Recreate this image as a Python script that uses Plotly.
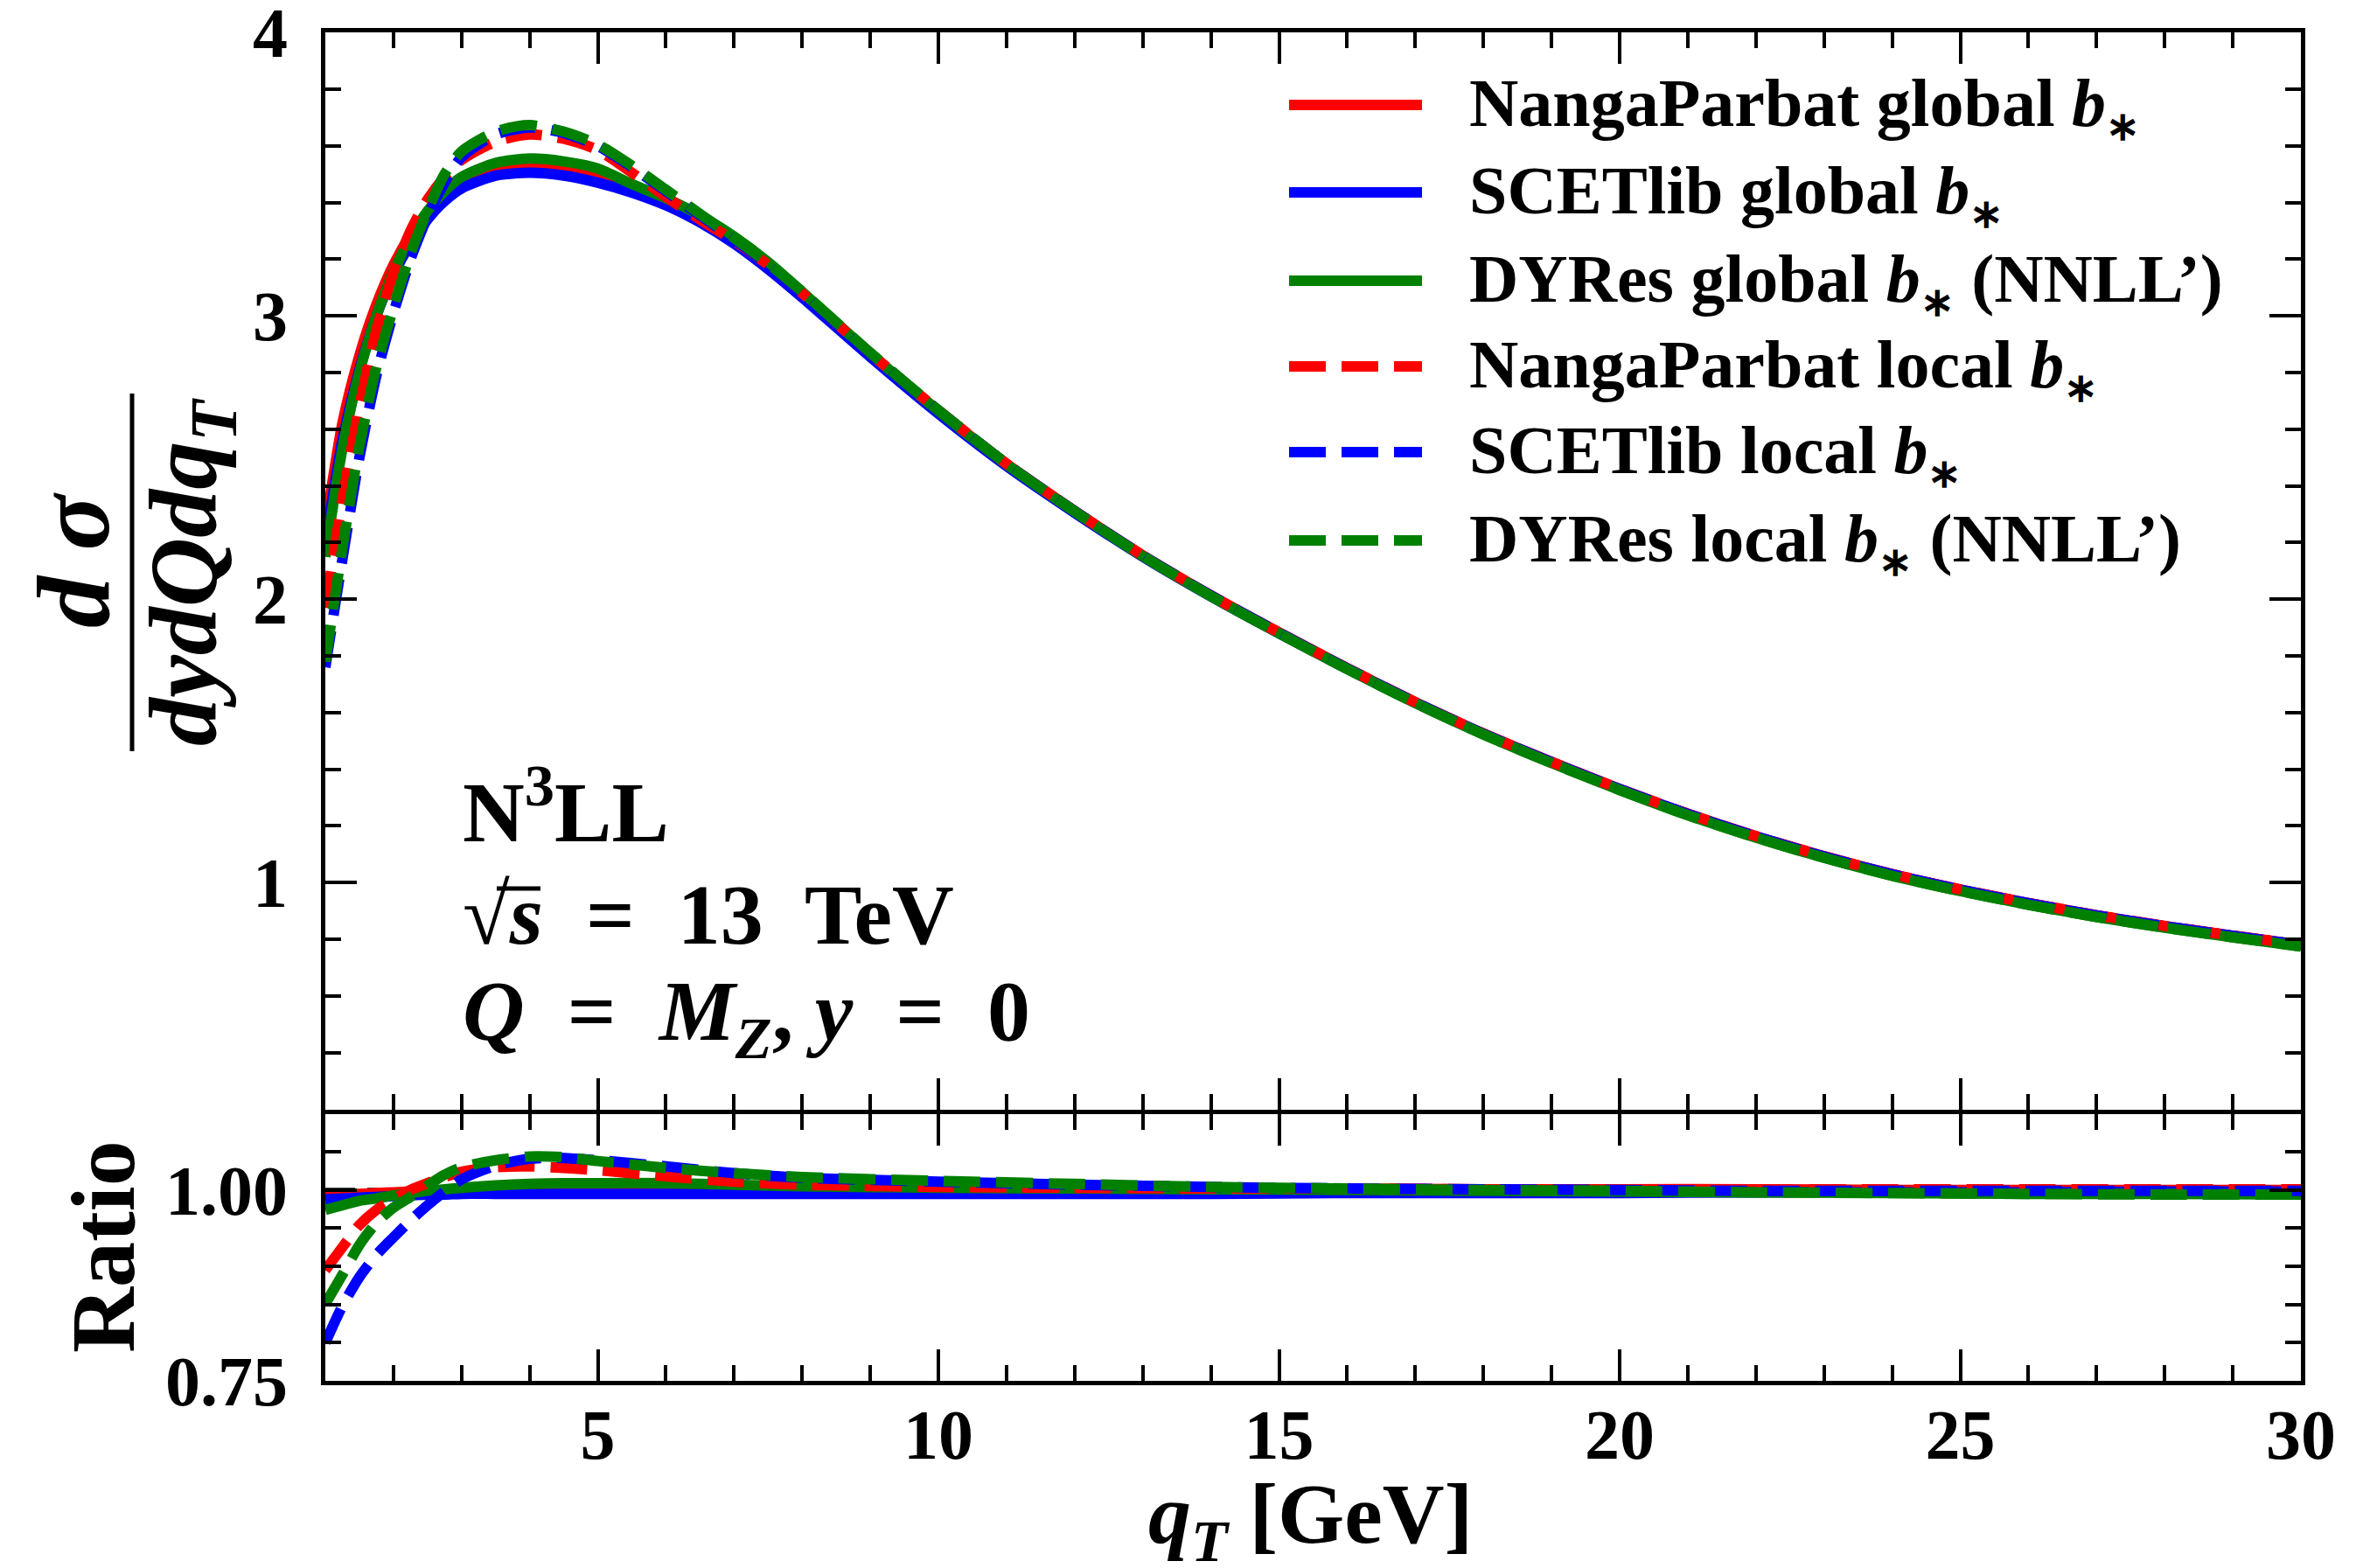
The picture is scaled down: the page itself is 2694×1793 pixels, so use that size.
import plotly.graph_objects as go

# ---------------- data ----------------
q_main = [1.0, 1.25, 1.5, 1.75, 2.0, 2.25, 2.5, 2.75, 3.0, 3.5, 4.0, 4.5, 5.0, 5.5,
          6.0, 6.5, 7.0, 7.5, 8.0, 9.0, 10.0, 11.0, 12.0, 13.0, 14.0, 15.0, 16.0,
          17.0, 18.0, 19.0, 20.0, 21.0, 22.0, 23.0, 24.0, 25.0, 26.0, 27.0, 28.0,
          29.0, 30.0]

np_global = [2.25, 2.62, 2.86, 3.04, 3.18, 3.285, 3.365, 3.43, 3.475, 3.515, 3.525, 3.515,
             3.49, 3.45, 3.40, 3.34, 3.27, 3.18, 3.078, 2.865, 2.665, 2.478, 2.312, 2.155,
             2.014, 1.883, 1.757, 1.637, 1.526, 1.426, 1.331, 1.243, 1.164, 1.093, 1.030,
             0.976, 0.928, 0.885, 0.847, 0.813, 0.781]
scet_global = [2.20, 2.56, 2.81, 3.00, 3.145, 3.255, 3.34, 3.405, 3.45, 3.495, 3.505, 3.495,
               3.47, 3.435, 3.39, 3.33, 3.255, 3.165, 3.065, 2.855, 2.655, 2.47, 2.305,
               2.15, 2.01, 1.88, 1.755, 1.635, 1.525, 1.425, 1.33, 1.242, 1.163, 1.092,
               1.029, 0.975, 0.927, 0.884, 0.846, 0.812, 0.780]
dyres_global = [2.15, 2.53, 2.80, 3.00, 3.155, 3.275, 3.37, 3.44, 3.49, 3.54, 3.555, 3.545,
                3.52, 3.465, 3.415, 3.355, 3.28, 3.19, 3.085, 2.868, 2.664, 2.476, 2.309,
                2.152, 2.011, 1.880, 1.754, 1.634, 1.523, 1.422, 1.327, 1.238, 1.159,
                1.088, 1.024, 0.970, 0.922, 0.879, 0.841, 0.807, 0.775]
np_local = [1.97, 2.35, 2.68, 2.95, 3.15, 3.30, 3.41, 3.49, 3.55, 3.615, 3.64, 3.625,
            3.585, 3.505, 3.42, 3.34, 3.265, 3.18, 3.08, 2.868, 2.667, 2.478, 2.311,
            2.154, 2.013, 1.882, 1.757, 1.637, 1.526, 1.426, 1.331, 1.243, 1.164, 1.093,
            1.030, 0.976, 0.928, 0.885, 0.847, 0.813, 0.781]
scet_local = [1.76, 2.14, 2.50, 2.79, 3.01, 3.20, 3.35, 3.47, 3.56, 3.64, 3.665, 3.645,
              3.60, 3.525, 3.44, 3.355, 3.27, 3.18, 3.08, 2.868, 2.666, 2.478, 2.311,
              2.154, 2.013, 1.882, 1.756, 1.636, 1.525, 1.425, 1.330, 1.242, 1.163,
              1.092, 1.029, 0.975, 0.927, 0.884, 0.846, 0.812, 0.780]
dyres_local = [1.78, 2.18, 2.54, 2.82, 3.03, 3.22, 3.37, 3.50, 3.58, 3.65, 3.673, 3.65,
               3.605, 3.53, 3.445, 3.36, 3.275, 3.185, 3.085, 2.870, 2.667, 2.478, 2.310,
               2.153, 2.011, 1.880, 1.754, 1.634, 1.523, 1.422, 1.327, 1.238, 1.159,
               1.088, 1.024, 0.970, 0.922, 0.879, 0.841, 0.807, 0.775]

q_ratio = [1.0, 1.25, 1.5, 1.75, 2.0, 2.25, 2.5, 2.75, 3.0, 3.5, 4.0, 4.5, 5.0, 6.0,
           7.0, 8.0, 10.0, 12.0, 14.0, 16.0, 18.0, 20.0, 22.0, 24.0, 26.0, 28.0, 30.0]

np_global_ratio = [0.993, 0.994, 0.995, 0.996, 0.997, 0.998, 0.999, 1.000, 1.001, 1.002,
                   1.003, 1.004, 1.004, 1.004, 1.004, 1.004, 1.003, 1.003, 1.002, 1.002,
                   1.001, 1.001, 1.001, 1.000, 1.000, 1.000, 1.000]
scet_global_ratio = [0.988, 0.989, 0.990, 0.991, 0.992, 0.993, 0.994, 0.994, 0.995, 0.995,
                     0.995, 0.995, 0.995, 0.995, 0.995, 0.995, 0.995, 0.995, 0.995, 0.996,
                     0.996, 0.996, 0.997, 0.997, 0.997, 0.998, 0.998]
dyres_global_ratio = [0.974, 0.980, 0.986, 0.989, 0.993, 0.996, 0.999, 1.001, 1.003, 1.006,
                      1.008, 1.009, 1.009, 1.009, 1.007, 1.005, 1.003, 1.002, 1.001, 1.000,
                      0.999, 0.998, 0.997, 0.996, 0.995, 0.995, 0.994]
np_local_ratio = [0.895, 0.925, 0.954, 0.974, 0.988, 1.000, 1.009, 1.017, 1.024, 1.030,
                  1.031, 1.029, 1.026, 1.018, 1.011, 1.007, 1.004, 1.003, 1.002, 1.002,
                  1.001, 1.001, 1.001, 1.001, 1.001, 1.001, 1.001]
scet_local_ratio = [0.800, 0.848, 0.886, 0.915, 0.938, 0.960, 0.980, 0.998, 1.014, 1.032,
                    1.041, 1.042, 1.039, 1.031, 1.022, 1.016, 1.011, 1.007, 1.004, 1.002,
                    1.001, 1.000, 0.999, 0.999, 0.999, 0.999, 0.999]
dyres_local_ratio = [0.851, 0.889, 0.928, 0.957, 0.977, 0.991, 1.006, 1.020, 1.030, 1.039,
                     1.044, 1.043, 1.038, 1.029, 1.022, 1.017, 1.012, 1.008, 1.004, 1.002,
                     1.000, 0.999, 0.997, 0.996, 0.995, 0.994, 0.994]

ratio_unity = [1.0, 1.0]
q_limits = [1.0, 30.0]

labels = ["NangaParbat global", "SCETlib global", "DYRes global",
          "NangaParbat local", "SCETlib local", "DYRes local"]
suffix = ["", "", " (NNLL’)", "", "", " (NNLL’)"]

# ---------------- styling ----------------
FONT = "Liberation Serif"
W, H = 2694, 1793
L, R, T, B = 372, 63, 37, 214
PW, PH = W - L - R, H - T - B
# panel split: the shared border is drawn once, centred on y = 1271 px
MAIN_BOTTOM = (H - B - 1268.5) / PH
RATIO_TOP = (H - B - 1273.5) / PH

colors = ["#ff0000", "#0000ff", "#008000", "#ff0000", "#0000ff", "#008000"]
DASH = "42px,18px"
LW = 12
dashes = ["solid", "solid", "solid", DASH, DASH, DASH]

main_series = [np_global, scet_global, dyres_global, np_local, scet_local, dyres_local]
ratio_series = [np_global_ratio, scet_global_ratio, dyres_global_ratio,
                np_local_ratio, scet_local_ratio, dyres_local_ratio]

fig = go.Figure()

# reference line at ratio = 1
fig.add_trace(go.Scatter(x=q_limits, y=ratio_unity, xaxis="x2", yaxis="y2", mode="lines",
                         line=dict(color="black", width=5, dash="34px,14px"),
                         showlegend=False, hoverinfo="skip"))

for i in range(6):
    fig.add_trace(go.Scatter(x=q_main, y=main_series[i], xaxis="x", yaxis="y", mode="lines",
                             line=dict(color=colors[i], width=LW, dash=dashes[i],
                                       shape="spline", smoothing=0.7),
                             showlegend=False, name=labels[i] + suffix[i]))
for i in range(6):
    fig.add_trace(go.Scatter(x=q_ratio, y=ratio_series[i], xaxis="x2", yaxis="y2", mode="lines",
                             line=dict(color=colors[i], width=LW, dash=dashes[i],
                                       shape="spline", smoothing=0.7),
                             showlegend=False, name=labels[i] + suffix[i]))

tickfont = dict(family=FONT, size=80, color="black", weight="bold")
common_x = dict(range=[1, 30], ticks="inside", ticklen=36, tickwidth=4, tickcolor="black",
                showline=True, linewidth=5, linecolor="black", mirror="ticks",
                tick0=0, dtick=5, showgrid=False, zeroline=False, automargin=False,
                minor=dict(ticks="inside", ticklen=18, tickwidth=4, tickcolor="black",
                           tick0=0, dtick=1, showgrid=False))
common_y = dict(ticks="inside", ticklen=36, tickwidth=4, tickcolor="black",
                showline=True, linewidth=5, linecolor="black", mirror="ticks",
                tickfont=tickfont, ticklabelstandoff=22, ticklabeloverflow="allow",
                showgrid=False, zeroline=False, automargin=False)

fig.update_layout(
    width=W, height=H,
    margin=dict(l=L, r=R, t=T, b=B, autoexpand=False),
    paper_bgcolor="white", plot_bgcolor="white",
    xaxis=dict(**common_x, anchor="y", domain=[0, 1], showticklabels=False, matches="x2"),
    xaxis2=dict(**common_x, anchor="y2", domain=[0, 1], showticklabels=True,
                tickfont=tickfont, ticklabelstandoff=-12, ticklabeloverflow="allow"),
    yaxis=dict(**common_y, domain=[MAIN_BOTTOM, 1], range=[0.2, 4.0005], anchor="x",
               tickvals=[1, 2, 3, 4], ticktext=["1", "2", "3", "4"],
               minor=dict(ticks="inside", ticklen=18, tickwidth=4, tickcolor="black",
                          tick0=0, dtick=0.2, showgrid=False)),
    yaxis2=dict(**common_y, domain=[0, RATIO_TOP], range=[0.75, 1.10], anchor="x2",
                tickvals=[0.75, 1.0], ticktext=["0.75", "1.00"],
                minor=dict(ticks="inside", ticklen=18, tickwidth=4, tickcolor="black",
                           tick0=0.75, dtick=0.05, showgrid=False)),
)


def px(xp):
    return (xp - L) / PW


def py(yp):
    return (H - B - yp) / PH


annotations = []
shapes = []

# legend drawn as line samples plus labels
STAR = "<sub><span style='font-size:46px'>∗</span></sub>"
legend_rows = [120, 220, 321, 419, 517, 618]
for i, yrow in enumerate(legend_rows):
    shapes.append(dict(type="line", xref="paper", yref="paper",
                       x0=px(1474), x1=px(1626), y0=py(yrow), y1=py(yrow),
                       line=dict(color=colors[i], width=LW, dash=dashes[i])))
    annotations.append(dict(xref="paper", yref="paper", x=px(1678), y=py(yrow + 2),
                            xanchor="left", yanchor="middle", showarrow=False,
                            text="<b>" + labels[i] + " <i>b</i>" + STAR + suffix[i] + "</b>",
                            font=dict(family=FONT, size=78, color="black")))

# physics labels
info = ["<b>N<sup>3</sup>LL</b>",
        "<b>√<i>s</i>  =  13  TeV</b>",
        "<b><i>Q</i>  =  <i>M</i><sub><i>Z</i></sub>, <i>y</i>  =  0</b>"]
info_rows = [922, 1046, 1163]
for txt, yrow in zip(info, info_rows):
    annotations.append(dict(xref="paper", yref="paper", x=px(527), y=py(yrow),
                            xanchor="left", yanchor="middle", showarrow=False, text=txt,
                            font=dict(family=FONT, size=98, color="black")))
# vinculum of the square root
shapes.append(dict(type="line", xref="paper", yref="paper",
                   x0=px(568), x1=px(618), y0=py(1016), y1=py(1016),
                   line=dict(color="black", width=5)))

# y-axis title as a fraction
annotations.append(dict(xref="paper", yref="paper", x=px(84), y=py(640), textangle=-90,
                        xanchor="center", yanchor="middle", showarrow=False,
                        text="<b><i>d σ</i></b>",
                        font=dict(family=FONT, size=118, color="black")))
annotations.append(dict(xref="paper", yref="paper", x=px(218), y=py(654), textangle=-90,
                        xanchor="center", yanchor="middle", showarrow=False,
                        text="<b><i>dydQdq</i><sub><i>T</i></sub></b>",
                        font=dict(family=FONT, size=110, color="black")))
shapes.append(dict(type="line", xref="paper", yref="paper",
                   x0=px(151), x1=px(151), y0=py(450), y1=py(859),
                   line=dict(color="black", width=5)))

# ratio axis title
annotations.append(dict(xref="paper", yref="paper", x=px(117), y=py(1426), textangle=-90,
                        xanchor="center", yanchor="middle", showarrow=False,
                        text="<b>Ratio</b>",
                        font=dict(family=FONT, size=104, color="black")))

# x-axis title
annotations.append(dict(xref="paper", yref="paper", x=px(1498), y=py(1738),
                        xanchor="center", yanchor="middle", showarrow=False,
                        text="<b><i>q</i><sub><i>T</i></sub> [GeV]</b>",
                        font=dict(family=FONT, size=98, color="black")))

fig.update_layout(annotations=annotations, shapes=shapes)
fig.write_html("out.html")
